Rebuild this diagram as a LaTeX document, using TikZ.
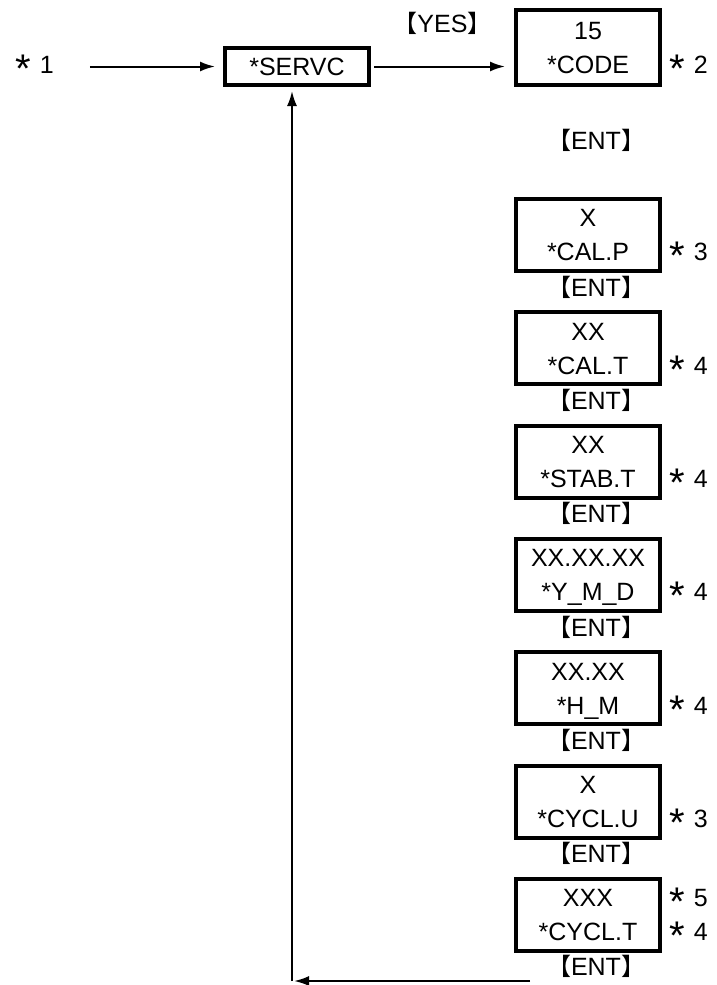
\documentclass[tikz,border=0pt]{standalone}
\usepackage{fontspec}
\setmainfont{Liberation Sans}
\newfontfamily\cjk{Noto Sans CJK JP}
\usetikzlibrary{arrows.meta,positioning}
\newcommand\keyname[1]{{\cjk\fontsize{24}{24}\selectfont 【}#1{\cjk\fontsize{24}{24}\selectfont 】}}
\newcommand\starnote[1]{\raisebox{-9pt}{\fontsize{40}{40}\selectfont *}\hspace{9pt}#1}
\tikzset{
dispbox/.style={rectangle,draw=black,line width=4pt,minimum width=144pt,minimum height=72pt,
  inner sep=0pt,align=center,font=\fontsize{25}{34}\selectfont,text height=51.9pt,text depth=0pt},
menubox/.style={dispbox,minimum height=37pt,text height=17.9pt},
keylbl/.style={inner sep=0pt,font=\fontsize{25}{28}\selectfont,text height=17.9pt,text depth=5pt},
notelbl/.style={inner sep=0pt,anchor=west,font=\fontsize{25}{28}\selectfont,text height=17.9pt,text depth=0pt},
flowarr/.style={line width=2pt,-{Latex[length=15pt,width=10pt]}}
}
\begin{document}
\begin{tikzpicture}[x=1pt,y=-1pt,node distance=37.3pt]
\useasboundingbox (0,0) rectangle (716,985);
\node[menubox] (servc) at (297,66.5) {*SERVC};
\node[dispbox,minimum height=75pt] (code) at (588,47.5) {15\\*CODE};
\node[notelbl] (n1) at (15,64.5) {\starnote{1}};
\node[notelbl,right=7pt of code,yshift=-17.5pt] (n2) {\starnote{2}};
\node[keylbl,below=44pt of code,xshift=8pt] (e0) {\keyname{ENT}};
\node[dispbox,below=110pt of code] (calp) {X\\*CAL.P};
\node[dispbox,below=of calp] (calt) {XX\\*CAL.T};
\node[dispbox,below=of calt] (stab) {XX\\*STAB.T};
\node[dispbox,below=of stab] (ymd) {XX.XX.XX\\*Y\_M\_D};
\node[dispbox,below=of ymd] (hm) {XX.XX\\*H\_M};
\node[dispbox,below=of hm] (cyclu) {X\\*CYCL.U};
\node[dispbox,below=of cyclu] (cyclt) {XXX\\*CYCL.T};
\node[keylbl,below=5pt of calp,xshift=8pt] (e1) {\keyname{ENT}};
\node[keylbl,below=5pt of calt,xshift=8pt] (e2) {\keyname{ENT}};
\node[keylbl,below=5pt of stab,xshift=8pt] (e3) {\keyname{ENT}};
\node[keylbl,below=5pt of ymd,xshift=8pt] (e4) {\keyname{ENT}};
\node[keylbl,below=5pt of hm,xshift=8pt] (e5) {\keyname{ENT}};
\node[keylbl,below=5pt of cyclu,xshift=8pt] (e6) {\keyname{ENT}};
\node[keylbl,below=5pt of cyclt,xshift=8pt] (e7) {\keyname{ENT}};
\node[notelbl,right=7pt of calp,yshift=-17pt] (n3) {\starnote{3}};
\node[notelbl,right=7pt of calt,yshift=-17pt] (n4) {\starnote{4}};
\node[notelbl,right=7pt of stab,yshift=-17pt] (n5) {\starnote{4}};
\node[notelbl,right=7pt of ymd,yshift=-17pt] (n6) {\starnote{4}};
\node[notelbl,right=7pt of hm,yshift=-17pt] (n7) {\starnote{4}};
\node[notelbl,right=7pt of cyclu,yshift=-17pt] (n8) {\starnote{3}};
\node[notelbl,right=7pt of cyclt,yshift=17pt] (n9) {\starnote{5}};
\node[notelbl,right=7pt of cyclt,yshift=-17pt] (n10) {\starnote{4}};
\coordinate (retstart) at (530,981);
\coordinate (corner) at (292,981);
\draw[flowarr,shorten <=36pt,shorten >=8pt] (n1.east |- servc.west) -- (servc.west);
\draw[flowarr,shorten <=3pt,shorten >=9pt] (servc.east) -- node[keylbl,above=28pt]{\keyname{YES}} (servc.east -| code.west);
\draw[flowarr,shorten >=2pt] (retstart) -- (corner);
\draw[flowarr,shorten >=4pt] (corner) -- (corner |- servc.south);
\end{tikzpicture}
\end{document}
